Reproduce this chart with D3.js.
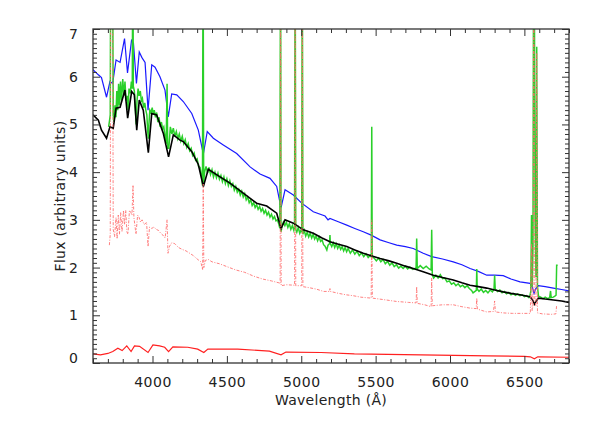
<!DOCTYPE html>
<html>
<head>
<meta charset="utf-8">
<script src="https://cdn.jsdelivr.net/npm/d3@7"></script>
<style>
  html, body { margin: 0; padding: 0; background: #fff; }
  svg { display: block; }
  text { font-family: "DejaVu Sans", sans-serif; fill: #222; }
</style>
</head>
<body>
<svg id="chart" width="598" height="423"></svg>
<script>
// ---------------- DATA (wavelength in Å, flux in arbitrary units) ----------------
const xTicksMajor = [4000, 4500, 5000, 5500, 6000, 6500];
const yTicksMajor = [0, 1, 2, 3, 4, 5, 6, 7];
const xLabel = "Wavelength (Å)";
const yLabel = "Flux (arbitrary units)";

// blue model spectrum
const blueSpec = [
  [3600,6.15],[3636,6.04],[3657,5.98],[3691,5.57],[3714,5.9],[3732,5.86],[3755,6.35],[3782,6.3],
  [3812,6.8],[3832,6.08],[3859,6.76],[3872,6.7],[3892,5.86],[3911,6.52],[3929,6.4],[3950,6.3],
  [3970,5.3],[3995,6.25],[4017,6.2],[4050,6.0],[4084,5.72],[4106,5.16],[4129,5.64],[4163,5.62],
  [4207,5.48],[4264,5.23],[4308,4.88],[4342,4.38],[4368,4.85],[4409,4.71],[4476,4.57],[4566,4.39],
  [4656,4.11],[4723,3.96],[4790,3.87],[4835,3.7],[4864,3.25],[4891,3.63],[4947,3.52],[5003,3.35],
  [5081,3.17],[5160,3.08],[5180,3.0],[5193,3.03],[5249,2.96],[5306,2.89],[5360,2.82],[5417,2.75],
  [5470,2.68],[5530,2.58],[5590,2.52],[5642,2.47],[5700,2.44],[5753,2.4],[5820,2.3],[5877,2.23],
  [5950,2.18],[6022,2.12],[6080,2.06],[6135,1.98],[6190,1.92],[6247,1.84],[6300,1.84],[6358,1.83],
  [6410,1.76],[6471,1.7],[6538,1.67],[6555,1.58],[6565,1.46],[6575,1.55],[6594,1.62],[6640,1.6],
  [6695,1.57],[6750,1.54],[6800,1.51]
];

// black model fit
const blackSpec = [
  [3600,5.2],[3636,5.09],[3657,4.88],[3691,4.71],[3714,4.95],[3736,4.92],[3755,5.34],[3782,5.36],
  [3815,5.72],[3833,5.13],[3860,5.69],[3878,5.62],[3894,4.88],[3911,5.51],[3938,5.3],[3972,4.41],
  [3995,5.23],[4028,5.2],[4073,4.81],[4108,4.32],[4140,4.78],[4185,4.67],[4207,4.64],[4264,4.43],
  [4308,4.16],[4342,3.7],[4375,4.06],[4454,3.9],[4521,3.77],[4610,3.56],[4700,3.35],[4768,3.29],
  [4835,3.14],[4864,2.82],[4891,3.0],[4947,2.93],[5014,2.79],[5081,2.72],[5140,2.62],[5193,2.54],
  [5250,2.49],[5306,2.44],[5360,2.37],[5417,2.3],[5470,2.25],[5530,2.19],[5590,2.14],[5642,2.09],
  [5700,2.03],[5753,1.98],[5820,1.91],[5888,1.84],[5950,1.79],[6022,1.74],[6080,1.68],[6135,1.63],
  [6190,1.6],[6247,1.57],[6300,1.53],[6358,1.49],[6410,1.46],[6471,1.43],[6538,1.39],[6555,1.32],
  [6568,1.23],[6580,1.3],[6594,1.36],[6640,1.34],[6695,1.32],[6750,1.3],[6800,1.27]
];

// green observed spectrum
const greenSpec = [
  [3705,4.95],[3712,5.1],[3716,5.2],[3719,9],[3731,9],[3736,5.2],[3742,5.05],[3748,5.4],[3754,5.15],
  [3760,5.7],[3766,5.3],[3772,5.85],[3778,5.4],[3785,5.9],[3792,5.5],[3800,5.95],[3808,5.6],[3815,5.9],
  [3822,5.5],[3830,5.6],[3836,5.3],[3842,5.75],[3850,5.65],[3858,5.9],[3864,5.75],[3868,9],[3871,5.8],
  [3878,5.7],[3885,5.3],[3890,5.0],[3896,5.5],[3903,5.75],[3910,5.6],[3918,5.7],[3925,5.5],[3932,5.55],
  [3940,5.35],[3948,5.45],[3955,5.3],[3962,5.2],[3968,4.85],[3972,4.7],[3976,5.0],[3982,5.3],[3990,5.25],
  [3998,5.35],[4005,5.2],[4012,5.3],[4020,5.15],[4028,5.25],[4036,5.05],[4044,5.15],[4052,4.95],[4060,5.05],
  [4068,4.9],[4076,4.95],[4084,4.75],[4092,4.6],[4098,5.85],[4102,4.5],[4110,4.5],[4120,4.95],[4130,4.8],
  [4140,4.92],[4150,4.75],[4160,4.85],[4170,4.7],[4180,4.8],[4190,4.65],[4200,4.75],[4210,4.6],[4220,4.68],
  [4230,4.52],[4240,4.6],[4250,4.45],[4260,4.5],[4270,4.35],[4280,4.4],[4290,4.25],[4300,4.28],[4310,4.12],
  [4320,4.1],[4330,3.9],[4336,3.72],[4340,9],[4344,3.78],[4350,4.0],[4360,4.12],[4370,3.98],[4380,4.1],
  [4390,3.95],[4400,4.05],[4410,3.9],[4420,4.0],[4430,3.88],[4440,3.98],[4450,3.85],[4460,3.93],[4470,3.8],
  [4480,3.9],[4490,3.76],[4500,3.86],[4510,3.72],[4520,3.82],[4530,3.7],[4540,3.76],[4550,3.62],[4560,3.7],
  [4570,3.58],[4580,3.64],[4590,3.52],[4600,3.6],[4610,3.48],[4620,3.55],[4630,3.42],[4640,3.48],[4650,3.36],
  [4660,3.42],[4670,3.3],[4680,3.36],[4690,3.26],[4700,3.32],[4710,3.22],[4720,3.28],[4730,3.18],[4740,3.24],
  [4750,3.14],[4760,3.2],[4770,3.1],[4780,3.16],[4790,3.06],[4800,3.12],[4810,3.02],[4820,3.07],[4830,2.98],
  [4840,3.0],[4850,2.9],[4856,2.82],[4861,9],[4864,2.75],[4870,2.85],[4880,2.95],[4890,2.88],[4900,2.95],
  [4910,2.84],[4920,2.92],[4930,2.8],[4940,2.88],[4950,2.78],[4955,2.85],[4959,9],[4963,2.8],[4970,2.74],
  [4980,2.84],[4990,2.72],[5000,2.8],[5003,2.74],[5007,9],[5011,2.7],[5020,2.78],[5030,2.66],[5040,2.74],
  [5050,2.64],[5060,2.72],[5070,2.62],[5080,2.7],[5090,2.6],[5100,2.66],[5110,2.56],[5120,2.64],[5130,2.55],
  [5140,2.58],[5150,2.48],[5160,2.45],[5172,2.37],[5180,2.47],[5190,2.5],[5193,2.68],[5196,2.5],[5205,2.44],
  [5215,2.52],[5225,2.42],[5235,2.5],[5245,2.4],[5255,2.47],[5265,2.38],[5275,2.44],[5285,2.35],[5295,2.42],
  [5305,2.33],[5315,2.4],[5330,2.3],[5345,2.37],[5360,2.28],[5375,2.34],[5390,2.25],[5405,2.31],[5420,2.23],
  [5435,2.29],[5450,2.21],[5465,2.26],[5471,2.22],[5474,4.95],[5477,2.22],[5490,2.2],[5505,2.14],[5520,2.2],
  [5535,2.12],[5550,2.17],[5565,2.08],[5580,2.13],[5595,2.05],[5610,2.1],[5625,2.02],[5640,2.06],[5655,1.99],
  [5670,2.03],[5685,1.98],[5700,2.03],[5715,1.97],[5730,2.01],[5750,1.96],[5772,1.99],[5776,2.61],[5780,1.98],
  [5800,2.04],[5820,1.98],[5840,2.03],[5860,1.97],[5873,1.95],[5877,2.79],[5881,1.85],[5890,1.78],[5905,1.84],
  [5920,1.78],[5935,1.85],[5950,1.77],[5965,1.78],[5980,1.7],[5995,1.72],[6010,1.65],[6025,1.68],[6040,1.62],
  [6055,1.66],[6070,1.6],[6085,1.63],[6100,1.58],[6115,1.62],[6130,1.56],[6145,1.52],[6155,1.47],[6168,1.5],
  [6177,1.52],[6180,1.97],[6183,1.55],[6195,1.5],[6210,1.55],[6225,1.48],[6240,1.52],[6255,1.47],[6270,1.53],
  [6285,1.49],[6296,1.55],[6300,1.84],[6304,1.55],[6320,1.5],[6335,1.53],[6350,1.47],[6365,1.5],[6380,1.45],
  [6395,1.48],[6410,1.43],[6425,1.46],[6440,1.42],[6455,1.45],[6470,1.41],[6485,1.43],[6500,1.39],[6515,1.41],
  [6530,1.37],[6538,1.42],[6543,1.5],[6548,3.1],[6553,1.6],[6558,2.5],[6562,9],[6566,9],[6572,3.0],
  [6578,1.8],[6583,6.63],[6588,1.6],[6595,1.4],[6610,1.38],[6625,1.35],[6640,1.38],[6655,1.35],[6670,1.37],
  [6676,1.51],[6680,1.37],[6695,1.38],[6705,1.4],[6713,1.42],[6717,2.05],[6724,2.05]
];

// salmon dash-dot spectrum
const salmonSpec = [
  [3710,2.47],[3716,2.7],[3719,9],[3731,9],[3736,2.8],[3745,2.65],[3755,3.05],[3762,2.6],[3770,3.1],
  [3778,2.7],[3786,3.15],[3795,2.75],[3805,3.2],[3812,2.9],[3820,3.2],[3828,2.75],[3835,2.7],[3845,3.2],
  [3855,3.15],[3862,3.1],[3869,3.73],[3875,3.05],[3889,2.7],[3900,3.1],[3910,3.05],[3920,2.95],[3930,3.0],
  [3945,2.9],[3960,2.95],[3970,2.44],[3980,2.85],[3995,2.82],[4010,2.85],[4025,2.8],[4040,2.78],[4055,2.72],
  [4070,2.68],[4085,2.62],[4098,3.0],[4104,2.3],[4115,2.45],[4130,2.52],[4150,2.5],[4175,2.42],[4200,2.38],
  [4225,2.35],[4250,2.3],[4275,2.25],[4300,2.18],[4325,2.12],[4337,1.95],[4341,3.75],[4345,2.0],[4355,2.15],
  [4375,2.17],[4400,2.12],[4450,2.08],[4500,2.02],[4560,1.95],[4620,1.9],[4680,1.82],[4740,1.76],[4800,1.72],
  [4850,1.68],[4858,1.66],[4861,9],[4865,1.62],[4900,1.64],[4955,1.63],[4959,9],[4963,1.62],[5003,1.62],
  [5007,9],[5011,1.6],[5050,1.58],[5100,1.55],[5150,1.5],[5190,1.5],[5193,1.56],[5196,1.5],[5250,1.46],
  [5300,1.43],[5350,1.41],[5400,1.38],[5470,1.36],[5474,3.0],[5478,1.36],[5550,1.33],[5640,1.29],[5720,1.27],
  [5772,1.26],[5776,1.6],[5780,1.25],[5830,1.22],[5873,1.18],[5877,1.78],[5881,1.2],[5950,1.22],[6022,1.22],
  [6080,1.18],[6135,1.15],[6176,1.14],[6180,1.36],[6184,1.13],[6247,1.07],[6292,1.08],[6300,1.3],[6305,1.07],
  [6358,1.05],[6420,1.04],[6500,1.04],[6540,1.04],[6548,2.5],[6552,1.1],[6558,1.2],[6563,9],[6570,1.3],
  [6578,1.2],[6583,6.5],[6588,1.05],[6620,1.03],[6680,1.02],[6712,1.03],[6717,1.22]
];

// red bottom curve
const redSpec = [
  [3600,0.19],[3650,0.17],[3700,0.2],[3733,0.24],[3767,0.31],[3796,0.26],[3827,0.36],[3856,0.24],
  [3879,0.36],[3913,0.35],[3970,0.22],[4003,0.38],[4048,0.36],[4082,0.33],[4108,0.24],[4137,0.34],
  [4237,0.33],[4304,0.29],[4345,0.22],[4372,0.29],[4573,0.29],[4786,0.25],[4864,0.17],[4897,0.23],
  [5133,0.22],[5357,0.19],[5805,0.17],[6253,0.15],[6500,0.14],[6540,0.13],[6567,0.09],[6590,0.13],
  [6800,0.12]
];

// ---------------- CHART ----------------
const svg = d3.select("#chart");
const L = 93, R = 569, T = 29, B = 363;
const x = d3.scaleLinear().domain([3600, 6800]).range([L, R]);
const y = d3.scaleLinear().domain([0, 7]).range([B, T]);

svg.append("defs").append("clipPath").attr("id", "plotclip")
  .append("rect").attr("x", L).attr("y", T).attr("width", R - L).attr("height", B - T);

const line = d3.line().x(d => x(d[0])).y(d => y(d[1]));
const plot = svg.append("g").attr("clip-path", "url(#plotclip)");

plot.append("path").datum(blueSpec).attr("d", line)
  .attr("fill", "none").attr("stroke", "#1a1aff").attr("stroke-width", 1.2);
plot.append("path").datum(greenSpec).attr("d", line)
  .attr("fill", "none").attr("stroke", "#2ad02a").attr("stroke-width", 1.5);
plot.append("path").datum(blackSpec).attr("d", line)
  .attr("fill", "none").attr("stroke", "#000").attr("stroke-width", 1.6);
plot.append("path").datum(salmonSpec).attr("d", line)
  .attr("fill", "none").attr("stroke", "#ff6a6a").attr("stroke-width", 1)
  .attr("stroke-dasharray", "3,1.5,1,1.5").attr("opacity", 0.85);
plot.append("path").datum(redSpec).attr("d", line)
  .attr("fill", "none").attr("stroke", "#ff2020").attr("stroke-width", 1.2);

// axes
const xMinor = d3.range(3600, 6801, 100).filter(v => !xTicksMajor.includes(v));
const yMinor = d3.range(0, 70.5, 1).map(v => v / 10).filter(v => !yTicksMajor.includes(v));
const axisColor = "#333";

function styleAxis(g) {
  g.select(".domain").remove();
  g.selectAll("line").attr("stroke", axisColor).attr("stroke-width", 1);
}

svg.append("g").attr("transform", `translate(0,${B})`)
  .call(d3.axisBottom(x).tickValues(xMinor).tickSize(-4).tickFormat(""))
  .call(styleAxis);
svg.append("g").attr("transform", `translate(0,${T})`)
  .call(d3.axisTop(x).tickValues(xMinor).tickSize(-4).tickFormat(""))
  .call(styleAxis);
svg.append("g").attr("transform", `translate(0,${T})`)
  .call(d3.axisTop(x).tickValues(xTicksMajor).tickSize(-7).tickFormat(""))
  .call(styleAxis);
const xb = svg.append("g").attr("transform", `translate(0,${B})`)
  .call(d3.axisBottom(x).tickValues(xTicksMajor).tickSize(-7).tickPadding(14).tickFormat(d3.format("d")))
  .call(styleAxis);
xb.selectAll("text").attr("font-size", 14).attr("font-family", "DejaVu Sans").attr("fill", "#222")
  .attr("letter-spacing", "0.5px");

svg.append("g").attr("transform", `translate(${L},0)`)
  .call(d3.axisLeft(y).tickValues(yMinor).tickSize(-4).tickFormat(""))
  .call(styleAxis);
svg.append("g").attr("transform", `translate(${R},0)`)
  .call(d3.axisRight(y).tickValues(yMinor).tickSize(-4).tickFormat(""))
  .call(styleAxis);
svg.append("g").attr("transform", `translate(${R},0)`)
  .call(d3.axisRight(y).tickValues(yTicksMajor).tickSize(-7).tickFormat(""))
  .call(styleAxis);
const yl = svg.append("g").attr("transform", `translate(${L},0)`)
  .call(d3.axisLeft(y).tickValues(yTicksMajor).tickSize(-7).tickPadding(15).tickFormat(d3.format("d")))
  .call(styleAxis);
yl.selectAll("text").attr("font-size", 14).attr("font-family", "DejaVu Sans").attr("fill", "#222")
  .attr("dy", d => d === 0 ? "-0.05em" : (d === 7 ? "0.65em" : "0.32em"));

// frame
svg.append("rect").attr("x", L).attr("y", T).attr("width", R - L).attr("height", B - T)
  .attr("fill", "none").attr("stroke", axisColor).attr("stroke-width", 1.3);

// labels
svg.append("text").attr("x", (L + R) / 2).attr("y", 405).attr("text-anchor", "middle")
  .attr("font-size", 14).attr("letter-spacing", "0.3px").text(xLabel);
svg.append("text").attr("transform", `translate(65,${(T + B) / 2}) rotate(-90)`)
  .attr("text-anchor", "middle").attr("font-size", 14).attr("letter-spacing", "0.3px").text(yLabel);
</script>
</body>
</html>
